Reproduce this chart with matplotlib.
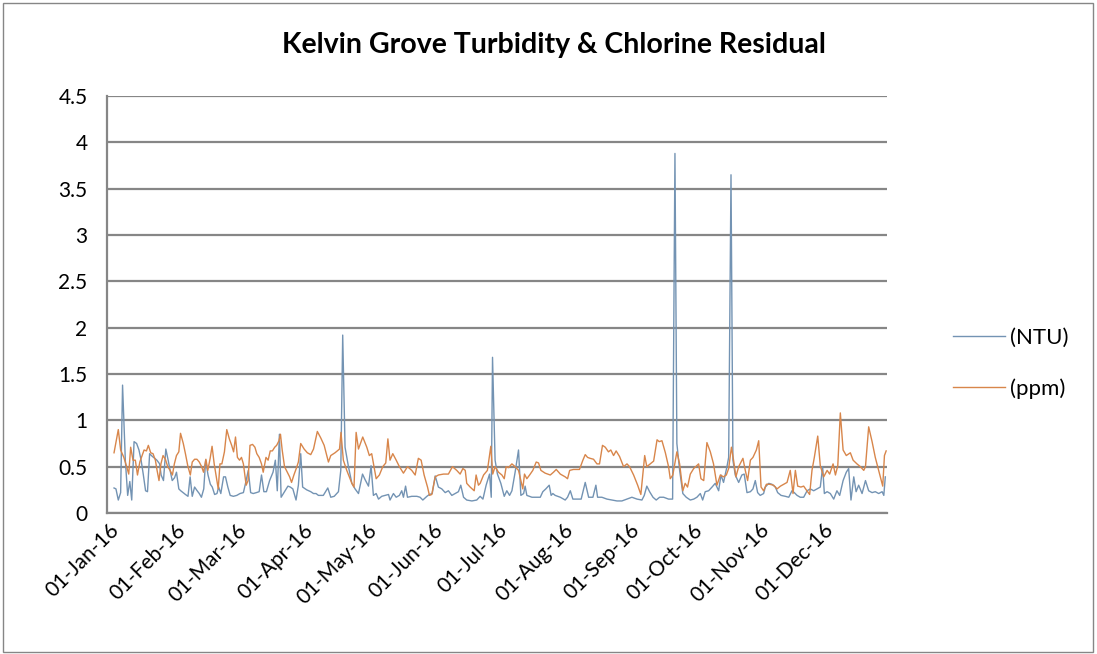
import numpy as np
import pandas as pd
import matplotlib
matplotlib.use('Agg')
import matplotlib.pyplot as plt
import matplotlib.dates as mdates
from matplotlib.patches import Rectangle
from matplotlib.transforms import ScaledTranslation

plt.rcParams['font.family'] = ['Lato', 'DejaVu Sans']

# Day offsets from 01-Jan-16 and readings
ntu_day = [3.3, 4.2, 5.3, 6.4, 7.3, 8.6, 9.7, 10.7, 11.6, 12.7, 13.9, 15.0, 16.0, 17.0, 18.1,
           19.0, 20.0, 21.3, 22.4, 23.4, 24.7, 25.4, 26.5, 27.6, 28.7, 29.6, 30.6, 31.7, 32.6,
           33.7, 34.6, 35.7, 36.8, 38.0, 39.0, 40.0, 41.1, 42.3, 43.3, 44.3, 45.4, 46.3, 47.4,
           48.5, 49.4, 50.5, 51.6, 52.4, 53.4, 54.7, 55.6, 56.7, 57.8, 59.3, 60.9, 62.4, 64.0,
           65.1, 66.3, 67.4, 68.6, 70.1, 71.4, 72.5, 73.6, 74.8, 76.3, 77.9, 79.0, 79.9, 80.9,
           81.7, 83.3, 84.9, 86.0, 87.2, 88.7, 89.8, 90.9, 91.8, 93.7, 95.6, 96.9, 98.1, 99.2,
           101.5, 103.6, 105.0, 106.6, 108.6, 109.7, 110.6, 111.7, 113.3, 114.9, 116.4, 118.0,
           119.9, 121.1, 122.7, 123.9, 125.0, 126.3, 127.4, 128.9, 130.5, 132.1, 132.8, 134.4,
           135.7, 137.2, 138.3, 139.1, 140.1, 141.0, 143.0, 145.4, 146.9, 148.2, 150.1, 151.3,
           152.6, 154.0, 155.5, 157.1, 158.7, 160.2, 161.8, 163.4, 164.9, 166.0, 167.3, 168.8,
           171.2, 173.5, 175.1, 176.4, 177.9, 179.5, 180.3, 180.9, 182.1, 183.2, 184.8, 186.4,
           187.6, 188.9, 190.0, 191.5, 193.1, 194.2, 195.5, 196.2, 197.0, 199.4, 201.7, 203.3,
           204.5, 205.9, 207.5, 208.4, 209.2, 210.3, 212.7, 215.0, 216.1, 217.4, 218.6, 220.5,
           222.5, 224.4, 226.0, 228.0, 229.4, 230.2, 232.2, 234.6, 236.9, 239.3, 241.6, 244.0,
           246.3, 248.7, 251.0, 252.1, 253.3, 254.6, 256.2, 257.7, 259.3, 261.2, 263.5, 265.4,
           266.5, 267.4, 268.7, 270.2, 271.8, 273.7, 275.3, 276.8, 278.4, 279.5, 280.7, 282.3,
           283.9, 285.4, 287.0, 288.1, 289.3, 290.9, 291.7, 292.8, 293.7, 294.8, 296.4, 297.9,
           299.0, 300.3, 301.9, 303.1, 304.2, 305.3, 306.5, 308.1, 308.9, 310.5, 312.0, 313.6,
           314.7, 316.3, 318.3, 319.9, 321.4, 322.5, 323.8, 325.3, 326.9, 328.5, 330.0, 331.6,
           333.2, 334.7, 335.8, 336.6, 337.9, 339.4, 341.0, 342.5, 343.8, 345.4, 346.9, 348.0,
           349.1, 350.4, 351.5, 352.7, 354.3, 355.9, 357.4, 359.0, 360.5, 362.1, 363.7, 364.5,
           365.2]
ntu = [0.27, 0.26, 0.14, 0.22, 1.38, 0.57, 0.19, 0.34, 0.14, 0.77, 0.75, 0.68, 0.57, 0.42, 0.24,
       0.23, 0.64, 0.61, 0.59, 0.57, 0.53, 0.41, 0.35, 0.69, 0.57, 0.46, 0.35, 0.38, 0.44,
       0.26, 0.24, 0.22, 0.20, 0.18, 0.39, 0.18, 0.28, 0.24, 0.21, 0.17, 0.26, 0.57, 0.41,
       0.31, 0.28, 0.20, 0.21, 0.28, 0.21, 0.39, 0.39, 0.28, 0.19, 0.18, 0.19, 0.21, 0.22,
       0.33, 0.46, 0.22, 0.21, 0.22, 0.23, 0.41, 0.23, 0.23, 0.35, 0.44, 0.57, 0.24, 0.85,
       0.17, 0.23, 0.29, 0.28, 0.26, 0.14, 0.30, 0.64, 0.28, 0.25, 0.23, 0.21, 0.21, 0.19,
       0.19, 0.27, 0.17, 0.18, 0.23, 0.46, 1.92, 0.71, 0.50, 0.32, 0.26, 0.21,
       0.42, 0.36, 0.29, 0.51, 0.19, 0.21, 0.15, 0.18, 0.19, 0.20, 0.14, 0.21,
       0.17, 0.19, 0.24, 0.17, 0.29, 0.17, 0.18, 0.18, 0.17, 0.14, 0.18, 0.20,
       0.21, 0.40, 0.28, 0.26, 0.22, 0.24, 0.19, 0.21, 0.23, 0.30, 0.17, 0.14,
       0.13, 0.14, 0.18, 0.15, 0.30, 0.42, 0.17, 1.68, 0.57, 0.42, 0.32, 0.18,
       0.24, 0.19, 0.24, 0.44, 0.68, 0.19, 0.21, 0.29, 0.19, 0.17, 0.17, 0.17,
       0.23, 0.26, 0.30, 0.19, 0.21, 0.19, 0.17, 0.14, 0.17, 0.24, 0.15, 0.15,
       0.15, 0.33, 0.17, 0.17, 0.30, 0.17, 0.17, 0.15, 0.14, 0.13, 0.13, 0.15,
       0.17, 0.15, 0.14, 0.19, 0.29, 0.23, 0.17, 0.14, 0.17, 0.17, 0.15, 0.15,
       3.88, 0.75, 0.46, 0.21, 0.17, 0.14, 0.15, 0.17, 0.21, 0.14, 0.23, 0.24,
       0.28, 0.32, 0.24, 0.41, 0.33, 0.50, 0.60, 3.65, 0.57, 0.41, 0.33, 0.41,
       0.42, 0.22, 0.23, 0.26, 0.35, 0.22, 0.19, 0.21, 0.28, 0.32, 0.31, 0.28,
       0.22, 0.19, 0.18, 0.17, 0.24, 0.22, 0.19, 0.17, 0.17, 0.24, 0.26, 0.24,
       0.26, 0.28, 0.50, 0.21, 0.23, 0.21, 0.15, 0.24, 0.19, 0.35, 0.44, 0.48,
       0.14, 0.39, 0.23, 0.30, 0.21, 0.35, 0.24, 0.22, 0.23, 0.21, 0.23, 0.19,
       0.39]

ppm_day = [3.3, 5.3, 6.4, 7.9, 9.1, 10.2, 11.1, 12.2, 13.3, 14.3, 15.4, 16.5, 17.4, 18.5, 19.4,
           20.5, 21.6, 22.7, 23.5, 24.4, 25.3, 26.3, 27.4, 28.5, 29.6, 30.7, 31.6, 32.6, 33.7,
           34.5, 35.8, 36.8, 37.9, 39.1, 40.0, 41.1, 42.2, 43.3, 44.4, 45.3, 46.4, 47.3, 48.4,
           49.3, 50.3, 51.4, 52.2, 53.0, 53.9, 55.1, 56.2, 57.4, 58.5, 59.4, 60.3, 61.2, 62.2,
           63.1, 64.0, 65.3, 66.2, 67.1, 68.3, 69.4, 70.3, 71.4, 72.5, 73.3, 74.6, 75.6, 76.6,
           77.6, 78.7, 79.6, 80.7, 81.4, 82.2, 83.3, 84.6, 85.7, 86.6, 87.7, 88.8, 89.8, 90.9,
           92.5, 94.0, 95.6, 96.9, 98.7, 100.3, 101.9, 103.9, 105.0, 107.0, 109.1, 109.8, 110.9,
           112.5, 114.9, 115.9, 116.9, 118.0, 120.0, 121.9, 123.1, 124.2, 125.3, 126.3, 127.8,
           129.4, 130.8, 131.8, 132.8, 134.1, 135.7, 137.2, 139.1, 141.0, 143.0, 144.6, 146.1,
           147.4, 148.8, 150.4, 151.3, 152.4, 154.0, 155.5, 157.9, 160.2, 162.1, 164.1, 165.7,
           167.0, 168.1, 168.8, 170.4, 172.3, 173.2, 174.3, 175.1, 176.7, 178.5, 180.1, 181.0,
           182.1, 183.7, 185.3, 186.4, 187.3, 188.4, 190.0, 191.5, 193.1, 194.2, 195.1, 195.9,
           197.0, 198.3, 199.8, 201.4, 202.5, 203.6, 205.6, 208.0, 209.5, 210.8, 212.7, 215.0,
           216.1, 217.1, 218.9, 221.7, 223.3, 224.4, 225.5, 226.7, 228.3, 229.9, 231.1, 232.5,
           233.8, 235.3, 236.4, 237.7, 238.9, 240.5, 242.4, 244.0, 245.2, 247.1, 249.0, 250.5,
           252.3, 253.3, 254.9, 256.5, 258.1, 259.1, 260.4, 262.0, 263.5, 264.3, 265.5, 267.4,
           268.7, 270.2, 271.3, 272.4, 273.7, 275.3, 277.6, 278.7, 280.0, 281.5, 283.1, 284.6,
           286.2, 287.8, 289.3, 290.6, 291.7, 293.0, 294.0, 295.1, 296.4, 297.5, 298.4, 299.5,
           300.6, 301.9, 303.1, 304.7, 305.8, 306.9, 308.1, 309.4, 311.0, 312.8, 314.4, 316.0,
           317.5, 319.1, 320.6, 321.9, 323.0, 324.1, 325.6, 326.9, 328.1, 329.7, 330.8, 331.9,
           333.5, 334.7, 336.3, 337.9, 339.1, 340.7, 341.8, 342.9, 344.1, 345.4, 346.9, 348.8,
           350.1, 351.9, 353.5, 355.1, 355.9, 357.4, 359.0, 360.5, 362.1, 364.0, 364.8, 365.6]
ppm = [0.65, 0.90, 0.68, 0.60, 0.51, 0.42, 0.71, 0.57, 0.57, 0.41, 0.55, 0.62, 0.68, 0.67, 0.73,
       0.65, 0.64, 0.57, 0.46, 0.35, 0.53, 0.62, 0.58, 0.50, 0.46, 0.41, 0.53, 0.62, 0.66,
       0.86, 0.75, 0.64, 0.51, 0.41, 0.55, 0.58, 0.58, 0.55, 0.50, 0.44, 0.58, 0.46, 0.59,
       0.72, 0.53, 0.37, 0.26, 0.53, 0.53, 0.66, 0.90, 0.80, 0.73, 0.66, 0.82, 0.60, 0.57,
       0.60, 0.53, 0.30, 0.35, 0.73, 0.74, 0.71, 0.64, 0.60, 0.53, 0.44, 0.60, 0.57, 0.67,
       0.67, 0.71, 0.73, 0.78, 0.85, 0.68, 0.50, 0.44, 0.39, 0.33, 0.41, 0.48, 0.55, 0.75,
       0.69, 0.65, 0.63, 0.69, 0.88, 0.81, 0.73, 0.55, 0.62, 0.65, 0.69, 0.87, 0.57,
       0.46, 0.32, 0.28, 0.87, 0.69, 0.82, 0.71, 0.62, 0.64, 0.50, 0.37, 0.41,
       0.50, 0.54, 0.80, 0.57, 0.64, 0.57, 0.50, 0.43, 0.50, 0.46, 0.41, 0.59,
       0.57, 0.41, 0.28, 0.19, 0.20, 0.39, 0.41, 0.42, 0.42, 0.50, 0.46, 0.42,
       0.48, 0.46, 0.32, 0.28, 0.24, 0.41, 0.30, 0.32, 0.41, 0.46, 0.72, 0.42,
       0.50, 0.44, 0.41, 0.37, 0.50, 0.49, 0.53, 0.50, 0.46, 0.35, 0.26, 0.42,
       0.37, 0.41, 0.46, 0.55, 0.54, 0.46, 0.43, 0.41, 0.44, 0.47, 0.42, 0.39,
       0.37, 0.46, 0.47, 0.47, 0.57, 0.63, 0.60, 0.59, 0.58, 0.53, 0.53, 0.73,
       0.71, 0.66, 0.68, 0.62, 0.67, 0.61, 0.50, 0.53, 0.50, 0.41, 0.30, 0.20,
       0.62, 0.50, 0.53, 0.56, 0.79, 0.77, 0.78, 0.65, 0.50, 0.37, 0.41, 0.66,
       0.53, 0.24, 0.32, 0.28, 0.42, 0.48, 0.53, 0.37, 0.35, 0.76, 0.66, 0.53,
       0.30, 0.41, 0.39, 0.41, 0.48, 0.71, 0.57, 0.39, 0.50, 0.55, 0.59, 0.46,
       0.35, 0.57, 0.60, 0.68, 0.78, 0.28, 0.24, 0.31, 0.31, 0.30, 0.26, 0.29,
       0.31, 0.33, 0.46, 0.21, 0.46, 0.29, 0.28, 0.29, 0.25, 0.20, 0.46, 0.60,
       0.83, 0.51, 0.39, 0.46, 0.42, 0.53, 0.41, 0.51, 1.08, 0.68, 0.62, 0.65,
       0.57, 0.53, 0.50, 0.46, 0.50, 0.93, 0.77, 0.60, 0.46, 0.29, 0.62, 0.67]

start = pd.Timestamp('2016-01-01')
ntu_dates = start + pd.to_timedelta(ntu_day, unit='D')
ppm_dates = start + pd.to_timedelta(ppm_day, unit='D')
month_ticks = pd.date_range('2016-01-01', '2016-12-01', freq='MS')

fig = plt.figure(figsize=(10.97, 6.54), dpi=100)
ax = fig.add_axes([107 / 1097, 1 - 513 / 654, 780 / 1097, 417 / 654])

grid_c = '#868686'
ax.plot(ntu_dates, ntu, color='#7393b3', lw=1.0, label='(NTU)', zorder=3)
ax.plot(ppm_dates, ppm, color='#d8864b', lw=1.0, label='(ppm)', zorder=4)

ax.set_ylim(0, 4.5)
ax.set_yticks(np.arange(0, 4.51, 0.5))
ax.set_yticklabels(['0', '0.5', '1', '1.5', '2', '2.5', '3', '3.5', '4', '4.5'])
ax.set_xlim(start, pd.Timestamp('2017-01-01'))
ax.set_xticks(month_ticks)
ax.xaxis.set_major_formatter(mdates.DateFormatter('%d-%b-%y'))

ax.yaxis.grid(True, color=grid_c, lw=1.6)
ax.set_axisbelow(True)
for s in ['top', 'right']:
    ax.spines[s].set_visible(False)
for s in ['left', 'bottom']:
    ax.spines[s].set_color(grid_c)
    ax.spines[s].set_linewidth(1.6)

ax.tick_params(axis='both', length=0, labelsize=15)
ax.tick_params(axis='y', pad=14)
ax.tick_params(axis='x', pad=5)
offset = ScaledTranslation(0.02, 0, fig.dpi_scale_trans)
for lab in ax.get_xticklabels():
    lab.set_rotation(45)
    lab.set_ha('right')
    lab.set_va('top')
    lab.set_rotation_mode('anchor')
    lab.set_transform(lab.get_transform() + offset)

fig.text(554 / 1097, 1 - 45 / 654, 'Kelvin Grove Turbidity & Chlorine Residual',
         ha='center', va='center', fontsize=20.5, fontweight='bold')

fig.legend(loc='center left', bbox_to_anchor=(953 / 1097, 1 - 363 / 654), frameon=False,
           fontsize=16, handlelength=2.35, handletextpad=0.2, labelspacing=1.38,
           borderaxespad=0, borderpad=0)

fig.patches.append(Rectangle((3 / 1097, 2 / 654), 1090 / 1097, 649 / 654,
                             transform=fig.transFigure, fill=False,
                             edgecolor=grid_c, lw=1.0))

fig.savefig('out.png', dpi=100, facecolor='white')
